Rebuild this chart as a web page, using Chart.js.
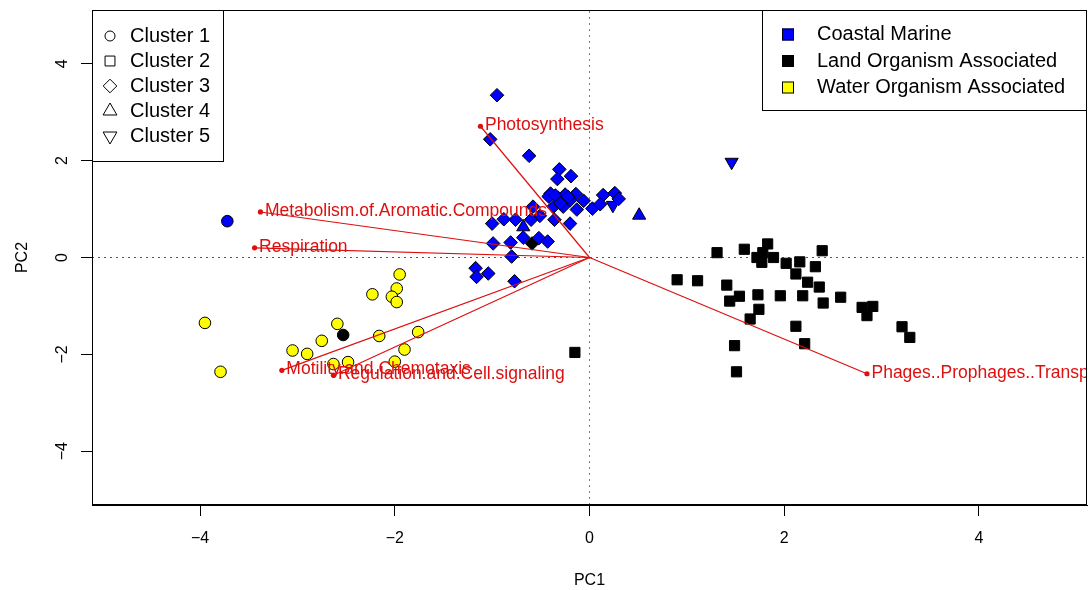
<!DOCTYPE html>
<html>
<head>
<meta charset="utf-8">
<title>PCA biplot</title>
<script src="https://cdn.jsdelivr.net/npm/chart.js@4.4.1/dist/chart.umd.min.js"></script>
<style>
  html, body { margin: 0; padding: 0; background: #fff; }
  #wrap { width: 1090px; height: 590px; }
</style>
</head>
<body>
<div id="wrap"><canvas id="biplot" width="1090" height="590"></canvas></div>
<script>
// same limits on both PCs, like base biplot()
const AXIS_LIM = 5.11;
const X_TICKS = [-4, -2, 0, 2, 4];
const Y_TICKS = [-4, -2, 0, 2, 4];

// sample scores [PC1, PC2], split by habitat group and cluster
const coastalC1 = [[-3.72, 0.75]];
const coastalC3 = [
  [-0.95, 3.35], [-1.02, 2.44], [-0.62, 2.10], [-0.31, 1.82], [-0.19, 1.68], [-0.33, 1.62],
  [-0.40, 1.32], [-0.42, 1.26], [-0.32, 1.23], [-0.25, 1.30], [-0.14, 1.31], [-0.20, 1.18],
  [-0.27, 1.05], [-0.06, 1.17], [-0.13, 0.99], [0.03, 1.01], [0.14, 1.29], [0.11, 1.10],
  [0.26, 1.33], [0.30, 1.21], [-0.37, 1.05], [-0.35, 1.28], [-0.22, 1.25], [-0.30, 1.12],
  [-0.58, 1.05], [-0.51, 0.86], [-0.36, 0.78], [-0.20, 0.70], [-0.60, 0.78], [-0.76, 0.78],
  [-0.88, 0.79], [-1.00, 0.70], [-0.68, 0.41], [-0.52, 0.40], [-0.43, 0.33], [-0.99, 0.29],
  [-0.81, 0.31], [-0.80, 0.02], [-1.17, -0.22], [-1.16, -0.40], [-1.04, -0.33], [-0.77, -0.49]
];
const coastalC4 = [[0.51, 0.87], [-0.68, 0.63]];
const coastalC5 = [[1.46, 1.97], [0.24, 1.08]];

const landC1 = [[-2.53, -1.60]];
const landC2 = [
  [0.90, -0.46], [1.11, -0.48], [1.31, 0.10], [1.59, 0.17], [1.83, 0.28], [1.78, 0.10],
  [1.72, 0.00], [1.77, -0.10], [1.89, 0.00], [2.02, -0.12], [2.16, -0.09], [2.39, 0.14],
  [2.32, -0.19], [2.12, -0.34], [2.24, -0.51], [2.36, -0.61], [1.41, -0.57], [1.54, -0.80],
  [1.44, -0.90], [1.73, -0.77], [1.96, -0.79], [2.19, -0.79], [1.74, -1.07], [2.40, -0.94],
  [2.58, -0.82], [1.65, -1.27], [2.80, -1.03], [2.91, -1.01], [2.85, -1.20], [2.12, -1.42],
  [2.21, -1.78], [1.49, -1.82], [1.51, -2.36], [3.21, -1.43], [3.29, -1.65], [-0.15, -1.96]
];
const landC3 = [[-0.59, 0.29]];

const waterC1 = [
  [-3.95, -1.35], [-3.79, -2.36], [-3.05, -1.92], [-2.90, -1.99], [-2.75, -1.72], [-2.59, -1.37],
  [-2.63, -2.20], [-2.48, -2.16], [-2.23, -0.76], [-2.16, -1.62], [-1.95, -0.35], [-1.98, -0.64],
  [-2.03, -0.81], [-1.98, -0.92], [-2.00, -2.15], [-1.90, -1.90], [-1.76, -1.54]
];

// variable loadings (arrow tips)
const LOADING_NAMES = [
  'Photosynthesis', 'Metabolism.of.Aromatic.Compounds', 'Respiration',
  'Motility.and.Chemotaxis', 'Regulation.and.Cell.signaling',
  'Phages..Prophages..Transposable.elements..Plasmids'
];
const LOADING_PC1 = [-1.12, -3.38, -3.44, -3.16, -2.63, 2.85];
const LOADING_PC2 = [2.71, 0.94, 0.20, -2.33, -2.43, -2.40];

const CLUSTER_LABELS = ['Cluster 1', 'Cluster 2', 'Cluster 3', 'Cluster 4', 'Cluster 5'];
const GROUP_LABELS = ['Coastal Marine', 'Land Organism Associated', 'Water Organism Associated'];
const GROUP_COLORS = ['#0000ff', '#000000', '#ffff00'];

// pch-like shapes for each cluster: [pointStyle, radius, rotation]
const SHAPES = [
  ['circle', 5.8, 0],
  ['rect', 7.2, 0],
  ['rectRot', 6.8, 0],
  ['triangle', 7.6, 0],
  ['triangle', 7.6, 180]
];
const ARROW_RED = '#dd0f0f';

Chart.defaults.font.family = "'Liberation Sans', Arial, sans-serif";
Chart.defaults.color = '#000';

const toXY = arr => arr.map(p => ({ x: p[0], y: p[1] }));
const fmt = v => (v < 0 ? '\u2212' + Math.abs(v) : String(v));

function scoreSet(points, group, cluster) {
  const [style, radius, rotation] = SHAPES[cluster];
  return {
    data: toXY(points),
    pointStyle: style,
    pointRadius: radius,
    rotation: rotation,
    pointBackgroundColor: GROUP_COLORS[group],
    pointBorderColor: '#000',
    pointBorderWidth: 1,
    showLine: false,
    order: 20
  };
}

const datasets = [];

// dotted reference lines through the origin
datasets.push({
  data: [{ x: -AXIS_LIM, y: 0 }, { x: AXIS_LIM, y: 0 }],
  showLine: true, borderColor: '#4b4bb4', borderWidth: 1, borderDash: [2, 4],
  pointRadius: 0, order: 30
});
datasets.push({
  data: [{ x: 0, y: -AXIS_LIM }, { x: 0, y: AXIS_LIM }],
  showLine: true, borderColor: '#7474d0', borderWidth: 1, borderDash: [2, 4],
  pointRadius: 0, order: 30
});

datasets.push(scoreSet(coastalC1, 0, 0));
datasets.push(scoreSet(coastalC3, 0, 2));
datasets.push(scoreSet(coastalC4, 0, 3));
datasets.push(scoreSet(coastalC5, 0, 4));
datasets.push(scoreSet(landC1, 1, 0));
datasets.push(scoreSet(landC2, 1, 1));
datasets.push(scoreSet(landC3, 1, 2));
datasets.push(scoreSet(waterC1, 2, 0));

// loading arrows: a line from the origin with a dot at the tip
LOADING_NAMES.forEach((name, i) => {
  datasets.push({
    label: name,
    isLoading: true,
    data: [{ x: 0, y: 0 }, { x: LOADING_PC1[i], y: LOADING_PC2[i] }],
    showLine: true,
    borderColor: ARROW_RED,
    borderWidth: 1.2,
    pointRadius: [0, 2.6],
    pointBackgroundColor: ARROW_RED,
    pointBorderWidth: 0,
    order: 10
  });
});

function drawSymbol(ctx, style, x, y, r, rotation) {
  Chart.helpers.drawPoint(ctx, { pointStyle: style, radius: r, rotation: rotation, borderWidth: 1 }, x, y);
}

// keep the plot region fixed: no extra room for tick label overhang
function fixAxis(size, key) {
  return s => {
    s[key] = size;
    s.paddingTop = s.paddingBottom = s.paddingLeft = s.paddingRight = 0;
  };
}

const biplotDecor = {
  id: 'biplotDecor',
  afterDatasetsDraw(chart) {
    const { ctx, chartArea: a } = chart;
    ctx.save();
    ctx.beginPath();
    ctx.rect(a.left, a.top, a.right - a.left, a.bottom - a.top);
    ctx.clip();
    ctx.font = "17.5px 'Liberation Sans', Arial, sans-serif";
    ctx.fillStyle = ARROW_RED;
    ctx.textAlign = 'left';
    ctx.textBaseline = 'middle';
    chart.data.datasets.forEach((ds, i) => {
      if (!ds.isLoading) return;
      const tip = chart.getDatasetMeta(i).data[1];
      ctx.fillText(ds.label, tip.x + 4.5, tip.y - 1);
    });
    ctx.restore();
  },
  afterDraw(chart) {
    const { ctx, chartArea: a } = chart;
    ctx.save();
    // plot frame
    ctx.strokeStyle = '#000';
    ctx.lineWidth = 1;
    ctx.strokeRect(a.left + 0.5, a.top + 0.5, a.right - a.left - 1, a.bottom - a.top - 1);

    ctx.font = "20px 'Liberation Sans', Arial, sans-serif";
    ctx.textBaseline = 'middle';
    ctx.textAlign = 'left';

    // cluster legend, top left
    const lx = a.left, ly = a.top;
    ctx.fillStyle = '#fff';
    ctx.fillRect(lx, ly, 132, 152);
    ctx.strokeRect(lx + 0.5, ly + 0.5, 131, 151);
    CLUSTER_LABELS.forEach((lab, i) => {
      const [style, , rot] = SHAPES[i];
      const r = [5, 7, 6.8, 8, 8][i];
      const cy = ly + 26 + i * 25;
      ctx.fillStyle = 'rgba(0,0,0,0)';
      ctx.strokeStyle = '#000';
      ctx.lineWidth = 1;
      drawSymbol(ctx, style, lx + 18, cy, r, rot);
      ctx.fillStyle = '#000';
      ctx.fillText(lab, lx + 38, cy);
    });

    // habitat legend, top right
    const rx = 762, ry = a.top;
    ctx.fillStyle = '#fff';
    ctx.fillRect(rx, ry, a.right - rx, 101);
    ctx.strokeRect(rx + 0.5, ry + 0.5, a.right - rx - 1, 100);
    GROUP_LABELS.forEach((lab, i) => {
      const cy = ry + 24.5 + i * 26.5;
      ctx.fillStyle = GROUP_COLORS[i];
      ctx.fillRect(rx + 20, cy - 6, 12, 12);
      ctx.strokeStyle = '#000';
      ctx.strokeRect(rx + 20.5, cy - 5.5, 11, 11);
      ctx.fillStyle = '#000';
      ctx.fillText(lab, rx + 55, cy);
    });
    ctx.restore();
  }
};

new Chart(document.getElementById('biplot'), {
  type: 'scatter',
  data: { datasets },
  options: {
    responsive: false,
    animation: false,
    events: [],
    layout: { autoPadding: false, padding: { top: 10, right: 3, bottom: 0, left: 0 } },
    plugins: { legend: { display: false }, tooltip: { enabled: false } },
    scales: {
      x: {
        type: 'linear', min: -AXIS_LIM, max: AXIS_LIM,
        afterBuildTicks: s => { s.ticks = X_TICKS.map(v => ({ value: v })); },
        afterFit: fixAxis(85, 'height'),
        grid: { drawOnChartArea: false, tickLength: 11, tickColor: '#000', color: '#000' },
        border: { color: '#000', width: 1 },
        ticks: { padding: 13, font: { size: 16 }, color: '#000', callback: fmt },
        title: { display: true, text: 'PC1', font: { size: 16 }, color: '#000', padding: { top: 0, bottom: 0 } }
      },
      y: {
        type: 'linear', min: -AXIS_LIM, max: AXIS_LIM,
        afterBuildTicks: s => { s.ticks = Y_TICKS.map(v => ({ value: v })); },
        afterFit: fixAxis(92, 'width'),
        grid: { drawOnChartArea: false, tickLength: 11, tickColor: '#000', color: '#000' },
        border: { color: '#000', width: 1 },
        ticks: {
          minRotation: 90, maxRotation: 90, crossAlign: 'center', padding: 9,
          font: { size: 16 }, color: '#000', callback: fmt
        },
        title: { display: true, text: 'PC2', font: { size: 16 }, color: '#000', padding: { top: 13, bottom: 0 } }
      }
    }
  },
  plugins: [biplotDecor]
});
</script>
</body>
</html>
